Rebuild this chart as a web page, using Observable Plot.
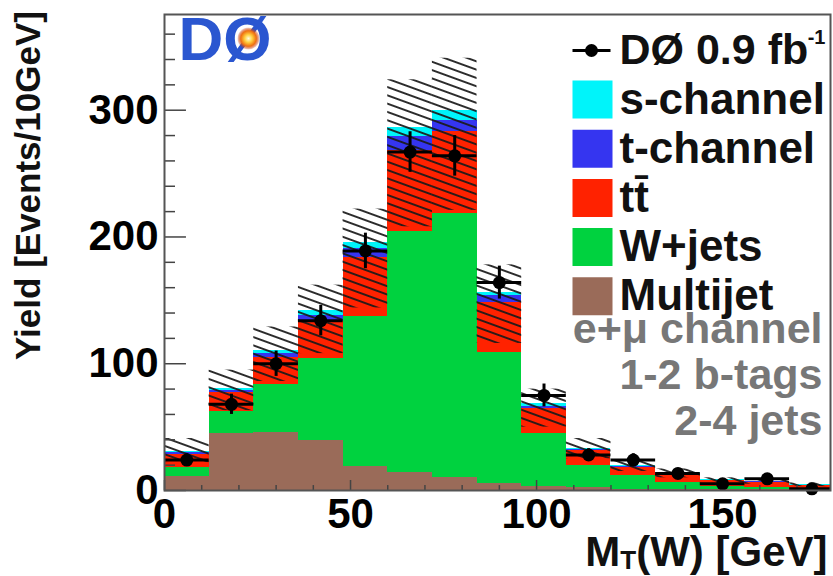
<!DOCTYPE html>
<html>
<head>
<meta charset="utf-8">
<script src="https://cdn.jsdelivr.net/npm/d3@7"></script>
<script src="https://cdn.jsdelivr.net/npm/@observablehq/plot@0.6"></script>
<style>
  html, body { margin: 0; padding: 0; background: #fff; }
</style>
</head>
<body>
<div id="chart"></div>
<script>
// ---- data ----
const binLow  = [0, 12, 24, 36, 48, 60, 72, 84, 96, 108, 120, 132, 144, 156, 168];
const binHigh = [12, 24, 36, 48, 60, 72, 84, 96, 108, 120, 132, 144, 156, 168, 180];

const processes = ["Multijet", "W+jets", "tt̄", "t-channel", "s-channel"];
const processColors = ["#9a6b59", "#00d23f", "#ff2200", "#3535f0", "#00f4fa"];

const multijet = [11, 45, 46, 39.5, 19, 14.5, 10.5, 5.5, 3, 2, 1, 0.8, 0.6, 0.5, 0.4];
const wjets    = [7.5, 17, 38, 64.5, 118, 189.5, 208, 103.5, 41.7, 18, 10.8, 5.8, 2.6, 1.6, 1.1];
const ttbar    = [10, 15.5, 21, 29, 47, 64, 64.4, 39.6, 19.8, 11.6, 6.6, 6.5, 4.7, 4.5, 2.5];
const tchannel = [1.5, 1.5, 3, 5, 7, 11, 9, 5.4, 1.8, 0.9, 0.6, 0.4, 0.3, 0.3, 0.2];
const schannel = [1, 1.5, 2.5, 4, 5, 7.5, 8, 2.5, 2.1, 1, 0.5, 0.5, 0.3, 0.2, 0.2];

const dataYield = [24, 68, 100, 134, 189, 267, 264, 164, 75, 28, 24, 13.5, 5.3, 9.2, 1.3];
const dataError = [5, 8, 10, 12, 14, 16, 16, 13, 9, 5, 5, 4, 2, 3, 1];

const bandLow  = [22, 63, 86, 108, 144, 208, 221, 116, 50, 25, 15, 10, 6, 5, 3];
const bandHigh = [41, 95, 129, 162, 222, 324, 341, 178, 80, 41, 23, 17, 10, 9, 6];

const yMajorTicks = [0, 100, 200, 300];
const yMinorTicks = [20, 40, 60, 80, 120, 140, 160, 180, 220, 240, 260, 280, 320, 340, 360];
const xMajorTicks = [0, 50, 100, 150];
const xMinorTicks = [10, 20, 30, 40, 60, 70, 80, 90, 110, 120, 130, 140, 160, 170];

const legendNames  = ["s-channel", "t-channel", "tt̄", "W+jets", "Multijet"];
const legendColors = ["#00f4fa", "#3535f0", "#ff2200", "#00d23f", "#9a6b59"];
const dataLabel = "DØ 0.9 fb";
const dataLabelSup = "-1";
const channelNotes = ["e+μ channel", "1-2 b-tags", "2-4 jets"];
const yTitle = "Yield [Events/10GeV]";

// ---- tables built from the arrays ----
const seriesByProcess = {
  "Multijet": multijet, "W+jets": wjets, "tt̄": ttbar,
  "t-channel": tchannel, "s-channel": schannel
};
const stackRows = processes.flatMap(p =>
  seriesByProcess[p].map((v, i) => ({lo: binLow[i], hi: binHigh[i], process: p, value: v})));
const bins = binLow.map((lo, i) => ({
  lo, hi: binHigh[i], mid: (lo + binHigh[i]) / 2,
  n: dataYield[i], err: dataError[i], bl: bandLow[i], bh: bandHigh[i]
}));

const FONT = "'Liberation Sans', Arial, Helvetica, sans-serif";
const HATCH_KEY = "#010203";
const GLOW_KEY = "#fe0102";

const swatch = {draw(ctx) { ctx.rect(-20, -19, 40, 38); }};
const dataSymbol = {draw(ctx) {
  ctx.rect(-19, -1.6, 38, 3.2);
  ctx.moveTo(6.5, 0);
  ctx.arc(0, 0, 6.5, 0, 2 * Math.PI);
}};

const rowY = i => 85 + i * 49.2;

const svg = Plot.plot({
  width: 833,
  height: 576,
  marginLeft: 164,
  marginRight: 3,
  marginTop: 14,
  marginBottom: 86,
  style: {fontFamily: FONT, background: "white", overflow: "visible"},
  x: {domain: [0, 179], axis: null},
  y: {domain: [0, 375.5], axis: null},
  color: {domain: processes, range: processColors},
  marks: [
    Plot.rectY(stackRows, {x1: "lo", x2: "hi", y: "value", fill: "process", order: processes,
      clip: true, shapeRendering: "crispEdges"}),
    Plot.rect(bins, {x1: "lo", x2: "hi", y1: "bl", y2: "bh", fill: HATCH_KEY, clip: true}),
    // ticks inside the frame
    Plot.ruleY(yMajorTicks, {y: d => d, x1: 0, x2: 5.9, stroke: "#444", strokeWidth: 1.5}),
    Plot.ruleY(yMinorTicks, {y: d => d, x1: 0, x2: 2.96, stroke: "#444", strokeWidth: 1.5}),
    Plot.ruleX(xMajorTicks, {x: d => d, y1: 0, y2: 7.9, stroke: "#444", strokeWidth: 1.5}),
    Plot.ruleX(xMinorTicks, {x: d => d, y1: 0, y2: 3.9, stroke: "#444", strokeWidth: 1.5}),
    // data with error bars
    Plot.ruleY(bins, {x1: "lo", x2: "hi", y: "n", stroke: "black", strokeWidth: 3, clip: true}),
    Plot.ruleX(bins, {x: "mid", y1: d => d.n - d.err, y2: d => d.n + d.err, stroke: "black", strokeWidth: 3}),
    Plot.dot(bins, {x: "mid", y: "n", r: 6.5, fill: "black"}),
    Plot.frame({stroke: "#555", strokeWidth: 2}),
    // axes labels
    Plot.axisY(yMajorTicks, {tickSize: 0, tickPadding: 6, fontSize: 42, fontWeight: "bold", label: null}),
    Plot.axisX(xMajorTicks, {tickSize: 0, tickPadding: 8, fontSize: 42, fontWeight: "bold", label: null}),
    Plot.text([yTitle], {frameAnchor: "left", dx: -136, dy: -67, rotate: -90,
      textAnchor: "middle", lineAnchor: "middle", fontSize: 35, fontWeight: "bold", fill: "#111"}),
    Plot.text(["(W) [GeV]"], {frameAnchor: "bottom-right", dx: -3, dy: 62,
      textAnchor: "end", lineAnchor: "middle", fontSize: 42, fontWeight: "bold", fill: "#111"}),
    Plot.text(["T"], {frameAnchor: "bottom-right", dx: -194.3, dy: 70,
      textAnchor: "end", lineAnchor: "middle", fontSize: 26, fontWeight: "bold", fill: "#111"}),
    Plot.text(["M"], {frameAnchor: "bottom-right", dx: -210.2, dy: 62,
      textAnchor: "end", lineAnchor: "middle", fontSize: 42, fontWeight: "bold", fill: "#111"}),
    // DØ logo
    Plot.text(["DØ"], {frameAnchor: "top-left", dx: 14, dy: 26, textAnchor: "start",
      lineAnchor: "middle", fontSize: 62, fontWeight: "bold", fill: "#2a56d0"}),
    Plot.dot([0], {frameAnchor: "top-left", dx: 84, dy: 24, r: 11, fill: GLOW_KEY}),
    // legend
    Plot.dot([dataLabel], {frameAnchor: "top-left", dx: 427, dy: 36, symbol: dataSymbol, fill: "black"}),
    Plot.text([dataLabel], {frameAnchor: "top-left", dx: 455, dy: 36, textAnchor: "start",
      lineAnchor: "middle", fontSize: 43, fontWeight: "bold", fill: "#111"}),
    Plot.text([dataLabelSup], {frameAnchor: "top-right", dx: -5, dy: 23, textAnchor: "end",
      lineAnchor: "middle", fontSize: 20, fontWeight: "bold", fill: "#111"}),
    ...legendNames.map((name, i) =>
      Plot.dot([name], {frameAnchor: "top-left", dx: 428, dy: rowY(i), symbol: swatch, fill: legendColors[i]})),
    ...legendNames.map((name, i) =>
      Plot.text([name], {frameAnchor: "top-left", dx: 455, dy: rowY(i), textAnchor: "start",
        lineAnchor: "middle", fontSize: 44, fontWeight: "bold", fill: "#111"})),
    ...channelNotes.map((note, i) =>
      Plot.text([note], {frameAnchor: "top-right", dx: -8, dy: 315 + i * 46, textAnchor: "end",
        lineAnchor: "middle", fontSize: 43, fontWeight: "bold", fill: "#777"}))
  ]
});

// pattern / gradient definitions for the hatched uncertainty band and logo glow
const ns = "http://www.w3.org/2000/svg";
const defs = document.createElementNS(ns, "defs");
defs.innerHTML =
  '<pattern id="hatch" patternUnits="userSpaceOnUse" width="12" height="7.8" patternTransform="rotate(20)">' +
  '<line x1="0" y1="3.9" x2="12" y2="3.9" stroke="#1a1a1a" stroke-width="1.8"/></pattern>' +
  '<radialGradient id="glow"><stop offset="0" stop-color="#fffbe0"/><stop offset="0.35" stop-color="#ffd040"/>' +
  '<stop offset="0.7" stop-color="#f07010"/><stop offset="1" stop-color="#c03010" stop-opacity="0.2"/></radialGradient>';
svg.insertBefore(defs, svg.firstChild);
svg.querySelectorAll(`[fill="${HATCH_KEY}"]`).forEach(el => el.setAttribute("fill", "url(#hatch)"));
svg.querySelectorAll(`[fill="${GLOW_KEY}"]`).forEach(el => el.setAttribute("fill", "url(#glow)"));

document.getElementById("chart").appendChild(svg);
</script>
</body>
</html>
